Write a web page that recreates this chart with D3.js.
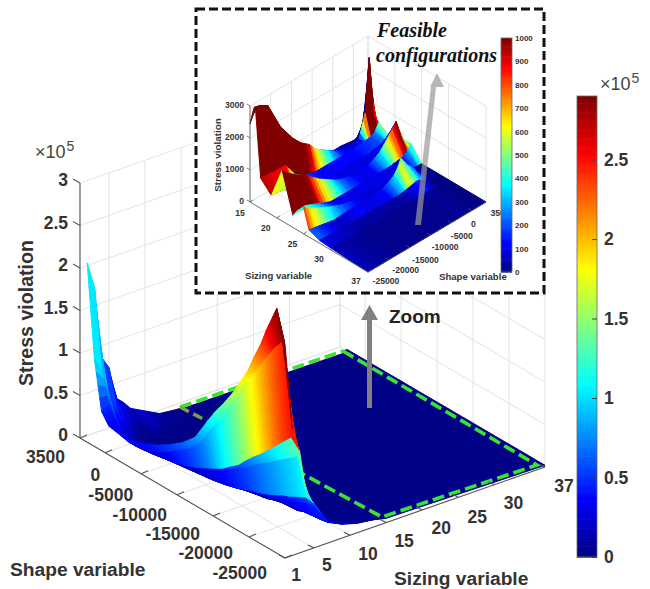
<!DOCTYPE html>
<html>
<head>
<meta charset="utf-8">
<script src="https://cdn.jsdelivr.net/npm/d3@7"></script>
<style>
  html, body { margin: 0; padding: 0; background: #fff; }
  svg { display: block; }
  text { font-family: "Liberation Sans", Arial, sans-serif; }
</style>
</head>
<body>
<svg id="chart" width="650" height="589"></svg>
<script>
// ---- data: main surface (stress violation, x 10^5) ----
var mainSizing = [1, 2, 3, 4, 5, 6, 7, 9, 11, 13, 15, 37];
var mainShape = [2500, 1500, 500, -500, -2200, -3900, -5600, -7300, -9000, -10750, -12500, -14200,
                 -15300, -16500, -17600, -18700, -19900, -20700, -21600, -22400, -23150, -23850, -25000];
var mainStress = [
  [2.11, 1.03, .46, .34, .31, .33, .38, .45, .54, .65, .80, 1.07, 1.24, 1.40, 1.56, 1.75, 1.96, 2.15, 2.34, 2.55, 2.72, 2.88, 2.51],
  [1.80, .87, .51, .32, .21, .22, .27, .34, .45, .56, .74, 1.00, 1.16, 1.34, 1.52, 1.72, 1.91, 2.05, 2.19, 2.31, 2.40, 2.48, 1.49],
  [.94, .54, .33, .21, .13, .15, .18, .20, .24, .30, .38, .46, .54, .62, .73, .83, .93, 1.01, 1.09, 1.17, 1.24, 1.31, 1.21],
  [.79, .40, .21, .12, .06, .08, .11, .14, .18, .25, .34, .43, .49, .56, .64, .72, .79, .85, .91, .96, 1.01, 1.07, .63],
  [.40, .25, .12, .04, .01, .02, .04, .06, .08, .10, .13, .17, .21, .25, .28, .32, .37, .41, .44, .48, .51, .54, .53],
  [.32, .16, .04, .00, .00, .01, .01, .01, .03, .05, .08, .12, .15, .18, .21, .25, .28, .32, .35, .38, .41, .42, .38],
  [.22, .20, .12, .04, .01, .01, .01, .01, .01, .01, .03, .06, .08, .10, .14, .16, .19, .20, .20, .21, .22, .22, .24],
  [.13, .10, .05, .01, .01, .01, .01, .01, .01, .01, .01, .01, .01, .01, .01, .01, .05, .06, .06, .08, .10, .12, .16],
  [.04, .03, .02, .01, .01, .01, .01, .01, .01, .01, .01, .01, .01, .01, .01, .01, .01, .01, .01, .01, .03, .06, .11],
  [.02, .02, .01, .01, .01, .01, .01, .01, .01, .01, .01, .01, .01, .01, .01, .01, .01, .01, .01, .01, .01, .02, .09],
  [.01, .01, .01, .01, .01, .01, .01, .01, .01, .01, .01, .01, .01, .01, .01, .01, .01, .01, .01, .01, .01, .02, .05],
  [.02, .02, .02, .02, .02, .02, .02, .02, .02, .02, .02, .02, .02, .02, .02, .02, .02, .02, .02, .02, .02, .02, .02]
];
var mainZTicks = [0, .5, 1, 1.5, 2, 2.5, 3];
var mainShapeTicks = [3500, 0, -5000, -10000, -15000, -20000, -25000];
var mainSizingTicks = [1, 5, 10, 15, 20, 25, 30, 37];
var mainBarTicks = [0, .5, 1, 1.5, 2, 2.5];

// ---- data: zoomed surface (stress violation) ----
var insetSizing = [15, 16, 17, 19, 21, 23, 25, 26, 28, 30, 37];
var insetShape = [-25000, -24000, -22000, -19000, -16000, -14000, -12000, -10500, -9000,
                  -7500, -6000, -4500, -3000, -1500, 0, 1500, 2500, 3500];
var insetStress = [
  [2440, 2880, 2600, 1970, 1310, 840, 500, 250, 95, 60, 60, 60, 60, 30, 0, 0, 0, 0],
  [3060, 3030, 2880, 2000, 1400, 1100, 900, 640, 500, 360, 230, 125, 95, 95, 130, 840, 2500, 650],
  [940, 930, 900, 880, 280, 190, 125, 125, 125, 125, 125, 125, 125, 150, 170, 190, 250, 500],
  [600, 600, 560, 150, 150, 150, 125, 125, 95, 95, 95, 95, 95, 95, 125, 150, 190, 250],
  [1590, 1440, 1220, 950, 620, 450, 280, 200, 150, 110, 100, 120, 220, 340, 560, 810, 1000, 400],
  [380, 440, 450, 280, 110, 100, 100, 100, 100, 100, 100, 100, 100, 100, 125, 160, 250, 440],
  [840, 700, 560, 370, 210, 150, 100, 80, 70, 70, 80, 110, 150, 550, 220, 30, 0, 0],
  [220, 200, 145, 60, 90, 125, 95, 95, 115, 125, 220, 340, 620, 440, 250, 30, 0, 0],
  [90, 90, 70, 50, 30, 30, 30, 30, 30, 30, 30, 60, 100, 150, 60, 0, 0, 0],
  [60, 50, 30, 20, 10, 10, 10, 10, 10, 10, 10, 10, 10, 20, 10, 0, 0, 0],
  [0, 0, 0, 0, 0, 0, 0, 0, 0, 0, 0, 0, 0, 0, 0, 0, 0, 0]
];
var insetZTicks = [0, 1000, 2000, 3000];
var insetShapeTicks = [-25000, -20000, -15000, -10000, -5000, 0, 3500];
var insetSizingTicks = [15, 20, 25, 30, 37];
var insetBarTicks = [0, 100, 200, 300, 400, 500, 600, 700, 800, 900, 1000];

// jet colormap
var jetStops = [0, .125, .375, .625, .875, 1];
var jetColors = ["#000083", "#0000ff", "#00ffff", "#ffff00", "#ff0000", "#800000"];
var jet = d3.scaleLinear().domain(jetStops).range(jetColors).clamp(true);

var svg = d3.select("#chart");
var gridColor = "#e3e3e3", axisColor = "#555", labelColor = "#333";

// a view turns (shape, sizing, stress) into page pixels
function makeView(origin, shapeVec, sizingVec, shapeScale, sizingScale, zScale) {
  return function(shape, sizing, z) {
    var a = shapeScale(shape), b = sizingScale(sizing);
    return [origin[0] + a * shapeVec[0] + b * sizingVec[0],
            origin[1] + a * shapeVec[1] + b * sizingVec[1] - zScale(z)];
  };
}

var line = d3.line();

function lerpPt(a, b, t) {
  return [a[0] + (b[0] - a[0]) * t, a[1] + (b[1] - a[1]) * t];
}

// walls and floor grid of a 3d box
function drawGrid(g, view, zTop, backShape, backSizing, frontShape, frontSizing, shapeTicks, sizingTicks, zTicks) {
  var segs = [];
  shapeTicks.forEach(function(s) {
    segs.push([view(s, frontSizing, 0), view(s, backSizing, 0)]);
    segs.push([view(s, backSizing, 0), view(s, backSizing, zTop)]);
  });
  sizingTicks.forEach(function(s) {
    segs.push([view(frontShape, s, 0), view(backShape, s, 0)]);
    segs.push([view(backShape, s, 0), view(backShape, s, zTop)]);
  });
  zTicks.forEach(function(z) {
    segs.push([view(backShape, frontSizing, z), view(backShape, backSizing, z)]);
    segs.push([view(backShape, backSizing, z), view(frontShape, backSizing, z)]);
  });
  g.selectAll("path.grid").data(segs).join("path")
    .attr("class", "grid")
    .attr("d", line)
    .attr("fill", "none")
    .attr("stroke", gridColor)
    .attr("stroke-width", 1);
}

// each facet is cut in slices across the shape direction so its colour runs smoothly
var sliceCount = 4;
function surfaceCells(view, shape, sizing, stress, colorMax, stripOrder, colOrder, colorEnds) {
  var cells = [];
  stripOrder.forEach(function(i) {
    colOrder.forEach(function(j) {
      var ends = colorEnds(j);
      var c0 = stress[i][ends[0]], c1 = stress[i][ends[1]];
      var p00 = view(shape[j], sizing[i], stress[i][j]),
          p01 = view(shape[j + 1], sizing[i], stress[i][j + 1]),
          p11 = view(shape[j + 1], sizing[i + 1], stress[i + 1][j + 1]),
          p10 = view(shape[j], sizing[i + 1], stress[i + 1][j]);
      d3.range(sliceCount).forEach(function(k) {
        var t0 = k / sliceCount, t1 = (k + 1) / sliceCount;
        var v = c0 + (c1 - c0) * (t0 + t1) / 2;
        cells.push({
          color: jet(Math.min(v, colorMax) / colorMax),
          pts: [lerpPt(p00, p01, t0), lerpPt(p00, p01, t1), lerpPt(p10, p11, t1), lerpPt(p10, p11, t0)]
        });
      });
    });
  });
  return cells;
}

function drawCells(g, cells) {
  g.selectAll("path.cell").data(cells).join("path")
    .attr("class", "cell")
    .attr("d", function(d) { return line(d.pts) + "Z"; })
    .attr("fill", function(d) { return d.color; })
    .attr("stroke", function(d) { return d.color; })
    .attr("stroke-width", 1)
    .attr("stroke-linejoin", "round");
}

function drawSegs(g, segs, width) {
  g.append("g").selectAll("path").data(segs).join("path")
    .attr("d", line)
    .attr("fill", "none")
    .attr("stroke", axisColor)
    .attr("stroke-width", width);
}

function addLabels(g, items, size, anchor, weight) {
  g.append("g").selectAll("text").data(items).join("text")
    .attr("x", function(d) { return d.x; })
    .attr("y", function(d) { return d.y; })
    .attr("dy", ".36em")
    .attr("text-anchor", anchor)
    .attr("font-size", size)
    .attr("font-weight", weight)
    .attr("fill", labelColor)
    .text(function(d) { return d.text; });
}

function timesTen(x, y) {
  var t = svg.append("text").attr("x", x).attr("y", y).attr("fill", "#444").attr("font-size", 18);
  t.append("tspan").text("\u00d710");
  t.append("tspan").attr("dy", -7).attr("dx", 1).attr("font-size", 14).text("5");
}

// colorbar, drawn from the jet scale, labelled with a d3 axis
function drawBar(x, width, top, bottom, domain, ticks, size, padding, inner, fmt) {
  var y = d3.scaleLinear().domain(domain).range([bottom, top]);
  var g = svg.append("g");
  var steps = d3.range(0, 256);
  g.selectAll("rect").data(steps).join("rect")
    .attr("x", x)
    .attr("width", width)
    .attr("y", function(d) { return y(domain[1] * (d + 1) / 256); })
    .attr("height", (bottom - top) / 256 + .6)
    .attr("fill", function(d) { return jet(d / 255); });
  g.append("rect").attr("x", x).attr("y", top).attr("width", width).attr("height", bottom - top)
    .attr("fill", "none").attr("stroke", "#666").attr("stroke-width", .8);
  var axis = d3.axisRight(y).tickValues(ticks).tickSizeInner(inner).tickSizeOuter(0).tickPadding(padding).tickFormat(fmt);
  var ag = g.append("g").attr("transform", "translate(" + (x + width) + ",0)").call(axis);
  ag.select(".domain").remove();
  ag.selectAll("line").attr("stroke", "#444");
  ag.selectAll("text").attr("font-size", size).attr("font-weight", "bold").attr("fill", labelColor)
    .attr("font-family", "Liberation Sans, Arial, sans-serif");
}

// ---------------- main chart ----------------
var mainView = makeView([80, 438], [205, 120], [260, -91],
  d3.scaleLinear().domain([3500, -25000]).range([0, 1]),
  d3.scaleLinear().domain([1, 37]).range([0, 1]),
  d3.scaleLinear().domain([0, 3]).range([0, 255]));

var mainG = svg.append("g");
drawGrid(mainG, mainView, 3, 3500, 37, -25000, 1, mainShapeTicks, mainSizingTicks, mainZTicks);

var mainCols = d3.range(0, mainShape.length - 1);
var mainColorEnds = function(j) {
  if (j === 0) return [1, 1];                  // peak column: colour comes from its neighbour
  if (j === mainShape.length - 2) return [j, j];
  return [j, j + 1];
};
// far part of the surface, then the dashed outline, then the part in front of it
var mainFarStrips = [10, 9];
var mainNearStrips = [8, 7, 6, 5, 4, 3, 2, 1, 0];
drawCells(mainG.append("g"), surfaceCells(mainView, mainShape, mainSizing, mainStress, 2.9, mainFarStrips, mainCols, mainColorEnds));

var greenTop = [[180, 407], [343, 351]];
var greenRest = [[343, 351], [537, 465], [382, 517], [207, 422]];
mainG.append("path").attr("d", line(greenTop)).attr("fill", "none").attr("stroke", "#fff").attr("stroke-width", 3.6);
[greenTop, greenRest].forEach(function(pts) {
  mainG.append("path").attr("d", line(pts)).attr("fill", "none")
    .attr("stroke", "#35e635").attr("stroke-width", 3.6).attr("stroke-dasharray", "12,5");
});

drawCells(mainG.append("g"), surfaceCells(mainView, mainShape, mainSizing, mainStress, 2.9, mainNearStrips, mainCols, mainColorEnds));

// start of the front dashed edge shows through the surface, duller
mainG.append("path").attr("d", line([[180, 407], [207, 421]])).attr("fill", "none")
  .attr("stroke", "#7f9c48").attr("stroke-width", 3.6).attr("stroke-dasharray", "10,5");

// main axes
var mainSegs = [
  [mainView(3500, 1, 0), mainView(3500, 1, 3)],
  [mainView(3500, 1, 0), mainView(-25000, 1, 0)],
  [mainView(-25000, 1, 0), mainView(-25000, 37, 0)]
];
mainZTicks.forEach(function(z) {
  var p = mainView(3500, 1, z);
  mainSegs.push([p, [p[0] - 7, p[1] - 4]]);
});
mainShapeTicks.forEach(function(s) {
  var p = mainView(s, 1, 0);
  mainSegs.push([p, [p[0] + 7, p[1] - 3]]);
});
mainSizingTicks.forEach(function(s) {
  var p = mainView(-25000, s, 0);
  mainSegs.push([p, [p[0] - 6, p[1] - 3]]);
});
drawSegs(mainG, mainSegs, 1.1);

var mainShapeOffsets = [[-15, 19], [-5, 22], [-8, 21], [-10, 20], [-13, 18], [-16, 16], [-18, 15]];
addLabels(mainG, mainShapeTicks.map(function(s, i) {
  var p = mainView(s, 1, 0);
  return { x: p[0] + mainShapeOffsets[i][0], y: p[1] + mainShapeOffsets[i][1], text: String(s) };
}), 17.5, "end", "bold");

var mainSizingOffsets = [[11, 17], [13, 17], [18, 18], [18, 18], [19, 18], [19, 19], [19, 18], [19, 19]];
addLabels(mainG, mainSizingTicks.map(function(s, i) {
  var p = mainView(-25000, s, 0);
  return { x: p[0] + mainSizingOffsets[i][0], y: p[1] + mainSizingOffsets[i][1], text: String(s) };
}), 17.5, "middle", "bold");

addLabels(mainG, mainZTicks.map(function(z) {
  var p = mainView(3500, 1, z);
  return { x: 68, y: p[1] - 3, text: String(z) };
}), 17.5, "end", "bold");

addLabels(mainG, [{ x: 10, y: 569, text: "Shape variable" }, { x: 394, y: 578, text: "Sizing variable" }], 19.2, "start", "bold");
mainG.append("text").attr("transform", "translate(33,313) rotate(-90)")
  .attr("text-anchor", "middle").attr("font-size", 19.6).attr("font-weight", "bold")
  .attr("fill", labelColor).text("Stress violation");

timesTen(35, 158);
timesTen(600, 90);

drawBar(577, 20, 96, 557, [0, 2.9], mainBarTicks, 17.5, 7, -5, String);

// zoom arrow
svg.append("path").attr("d", line([[367, 408], [367, 320], [361, 320], [369.5, 305], [378, 320], [372, 320], [372, 408]]) + "Z")
  .attr("fill", "#808080");
svg.append("text").attr("x", 389).attr("y", 323).attr("font-size", 19).attr("font-weight", "bold")
  .attr("fill", "#222").text("Zoom");

// ---------------- zoomed chart ----------------
svg.append("rect").attr("x", 196).attr("y", 9).attr("width", 348).attr("height", 284)
  .attr("fill", "#fff").attr("stroke", "#111").attr("stroke-width", 3).attr("stroke-dasharray", "9,4");

var insetView = makeView([250, 202], [118, -70], [118, 70],
  d3.scaleLinear().domain([-25000, 3500]).range([0, 1]),
  d3.scaleLinear().domain([15, 37]).range([0, 1]),
  d3.scaleLinear().domain([0, 3000]).range([0, 96]));

var insetG = svg.append("g");
drawGrid(insetG, insetView, 3000, 3500, 15, -25000, 37, insetShapeTicks, insetSizingTicks, insetZTicks);

var insetStrips = d3.range(0, insetSizing.length - 1);
var insetCols = d3.range(insetShape.length - 2, -1, -1);
drawCells(insetG.append("g"), surfaceCells(insetView, insetShape, insetSizing, insetStress, 1000, insetStrips, insetCols, function(j) { return [j, j + 1]; }));

var insetSegs = [
  [insetView(-25000, 15, 0), insetView(-25000, 15, 3000)],
  [insetView(-25000, 15, 0), insetView(-25000, 37, 0)],
  [insetView(-25000, 37, 0), insetView(3500, 37, 0)]
];
insetZTicks.forEach(function(z) {
  var p = insetView(-25000, 15, z);
  insetSegs.push([p, [p[0] - 3, p[1] - 2]]);
});
insetSizingTicks.forEach(function(s) {
  var p = insetView(-25000, s, 0);
  insetSegs.push([p, [p[0] + 3, p[1] - 2]]);
});
insetShapeTicks.forEach(function(s) {
  var p = insetView(s, 37, 0);
  insetSegs.push([p, [p[0] - 3, p[1] - 2]]);
});
drawSegs(insetG, insetSegs, .8);

var insetSizingOffsets = [[-10, 11], [-11, 10], [-11, 10], [-11.5, 9], [-12, 9]];
addLabels(insetG, insetSizingTicks.map(function(s, i) {
  var p = insetView(-25000, s, 0);
  return { x: p[0] + insetSizingOffsets[i][0], y: p[1] + insetSizingOffsets[i][1], text: String(s) };
}), 8.6, "middle", "bold");

var insetShapeOffsets = [[18, 9], [17, 10], [16, 12], [15, 12], [11, 13], [2, 13], [14, 11]];
addLabels(insetG, insetShapeTicks.map(function(s, i) {
  var p = insetView(s, 37, 0);
  return { x: p[0] + insetShapeOffsets[i][0], y: p[1] + insetShapeOffsets[i][1], text: String(s) };
}), 8.6, "middle", "bold");

addLabels(insetG, insetZTicks.map(function(z) {
  var p = insetView(-25000, 15, z);
  return { x: 244, y: p[1] - 1, text: String(z) };
}), 8.6, "end", "bold");

addLabels(insetG, [{ x: 245, y: 276, text: "Sizing variable" }, { x: 439, y: 277, text: "Shape variable" }], 9.6, "start", "bold");
insetG.append("text").attr("transform", "translate(220.5,155) rotate(-90)")
  .attr("text-anchor", "middle").attr("font-size", 9.9).attr("font-weight", "bold")
  .attr("fill", labelColor).text("Stress violation");

drawBar(501, 11, 38, 272, [0, 1000], insetBarTicks, 8, 3, 0, String);

// feasible arrow and note
svg.append("path").attr("d", line([[415, 225], [431, 87], [430, 87], [437, 73], [444, 87], [436, 87], [421, 225]]) + "Z")
  .attr("fill", "#999").attr("fill-opacity", .7);
[["Feasible", 377, 37], ["configurations", 376, 62]].forEach(function(d) {
  svg.append("text").attr("x", d[1]).attr("y", d[2])
    .style("font-family", "Liberation Serif, serif")
    .attr("font-size", 20).attr("font-weight", "bold").attr("font-style", "italic")
    .attr("fill", "#111").text(d[0]);
});
</script>
</body>
</html>
